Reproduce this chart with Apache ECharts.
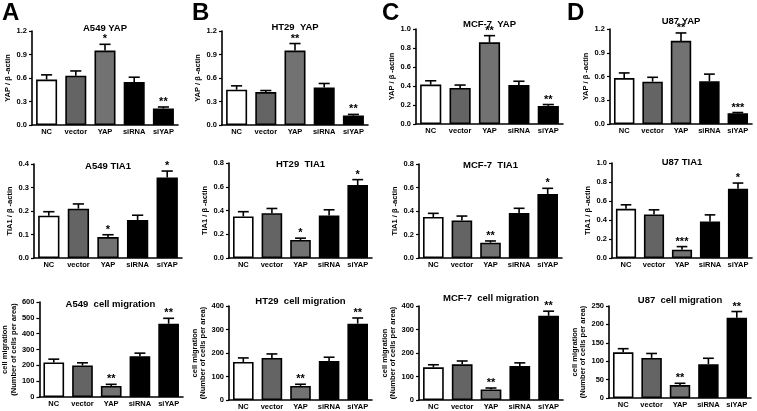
<!DOCTYPE html>
<html><head><meta charset="utf-8">
<script src="https://cdn.jsdelivr.net/npm/echarts/dist/echarts.min.js"></script>
<style>html,body{margin:0;padding:0;background:#fff}#c{width:757px;height:411px}</style>
</head><body><div id="c"></div>
<script>
const categories = ['NC', 'vector', 'YAP', 'siRNA', 'siYAP'];

// YAP / beta-actin (mean, SEM, significance)
const a549YapMean = [0.58, 0.63, 0.95, 0.55, 0.21];
const a549YapSem  = [0.06, 0.06, 0.08, 0.06, 0.02];
const a549YapSig  = ['', '', '*', '', '**'];
const ht29YapMean = [0.45, 0.42, 0.95, 0.48, 0.12];
const ht29YapSem  = [0.05, 0.02, 0.09, 0.05, 0.015];
const ht29YapSig  = ['', '', '**', '', '**'];
const mcf7YapMean = [0.415, 0.38, 0.86, 0.41, 0.19];
const mcf7YapSem  = [0.04, 0.03, 0.07, 0.04, 0.015];
const mcf7YapSig  = ['', '', '**', '', '**'];
const u87YapMean  = [0.58, 0.535, 1.05, 0.54, 0.135];
const u87YapSem   = [0.065, 0.055, 0.10, 0.09, 0.01];
const u87YapSig   = ['', '', '**', '', '***'];

// TIA1 / beta-actin
const a549TiaMean = [0.18, 0.21, 0.089, 0.162, 0.343];
const a549TiaSem  = [0.017, 0.02, 0.01, 0.02, 0.027];
const a549TiaSig  = ['', '', '*', '', '*'];
const ht29TiaMean = [0.35, 0.377, 0.152, 0.358, 0.614];
const ht29TiaSem  = [0.04, 0.04, 0.015, 0.048, 0.046];
const ht29TiaSig  = ['', '', '*', '', '*'];
const mcf7TiaMean = [0.349, 0.32, 0.13, 0.383, 0.545];
const mcf7TiaSem  = [0.031, 0.037, 0.015, 0.04, 0.048];
const mcf7TiaSig  = ['', '', '**', '', '*'];
const u87TiaMean  = [0.518, 0.458, 0.088, 0.384, 0.729];
const u87TiaSem   = [0.042, 0.049, 0.032, 0.07, 0.06];
const u87TiaSig   = ['', '', '***', '', '*'];

// cell migration (number of cells per area)
const a549MigMean = [218, 199, 70, 258, 463];
const a549MigSem  = [21, 17, 10, 19, 34];
const a549MigSig  = ['', '', '**', '', '**'];
const ht29MigMean = [162, 179, 60, 166, 325];
const ht29MigSem  = [17, 17, 7, 16, 24];
const ht29MigSig  = ['', '', '**', '', '**'];
const mcf7MigMean = [139, 152, 45, 145, 358];
const mcf7MigSem  = [11, 14, 6, 13, 20];
const mcf7MigSig  = ['', '', '**', '', '**'];
const u87MigMean  = [124, 109, 35, 92, 218];
const u87MigSem   = [10, 12, 5, 16, 17];
const u87MigSig   = ['', '', '**', '', '**'];

const panelLetters = ['A', 'B', 'C', 'D'];

const FONT = '"Liberation Sans", Arial, sans-serif';
const barColors = ['#ffffff', '#646464', '#727272', '#000000', '#000000'];
const yapName = 'YAP / \u03b2 -actin';
const tiaName = 'TIA1 / \u03b2 -actin';
const migName = 'cell migration\n(Number of cells per area)';

const panels = [
  {title:'A549 YAP', ty:23, mean:a549YapMean, sem:a549YapSem, sig:a549YapSig, g:[32,31,146,94], max:1.2, iv:0.3, dec:1, name:yapName, gap:12},
  {title:'HT29  YAP', ty:22, mean:ht29YapMean, sem:ht29YapSem, sig:ht29YapSig, g:[222,31,146,94], max:1.2, iv:0.3, dec:1, name:yapName, gap:12},
  {title:'MCF-7  YAP', ty:19, mean:mcf7YapMean, sem:mcf7YapSem, sig:mcf7YapSig, g:[416,29,147,95], max:1.0, iv:0.2, dec:1, name:yapName, gap:13},
  {title:'U87 YAP', ty:16, mean:u87YapMean, sem:u87YapSem, sig:u87YapSig, g:[610,29,142,95], max:1.2, iv:0.3, dec:1, name:yapName, gap:14},
  {title:'A549 TIA1', ty:161, mean:a549TiaMean, sem:a549TiaSem, sig:a549TiaSig, g:[34,164,148,94], max:0.4, iv:0.1, dec:1, name:tiaName, gap:14},
  {title:'HT29  TIA1', ty:159, mean:ht29TiaMean, sem:ht29TiaSem, sig:ht29TiaSig, g:[229,163,143,95], max:0.8, iv:0.2, dec:1, name:tiaName, gap:16},
  {title:'MCF-7  TIA1', ty:160, mean:mcf7TiaMean, sem:mcf7TiaSem, sig:mcf7TiaSig, g:[419,164,143,94], max:0.8, iv:0.2, dec:1, name:tiaName, gap:16},
  {title:'U87 TIA1', ty:157, mean:u87TiaMean, sem:u87TiaSem, sig:u87TiaSig, g:[612,163,140,95], max:1.0, iv:0.2, dec:1, name:tiaName, gap:16},
  {title:'A549  cell migration', ty:299, mean:a549MigMean, sem:a549MigSem, sig:a549MigSig, g:[38,302,145,95], max:600, iv:100, dec:0, name:migName, gap:19},
  {title:'HT29  cell migration', ty:296, mean:ht29MigMean, sem:ht29MigSem, sig:ht29MigSig, g:[229,306,143,94], max:400, iv:100, dec:0, name:migName, gap:17},
  {title:'MCF-7  cell migration', ty:293, mean:mcf7MigMean, sem:mcf7MigSem, sig:mcf7MigSig, g:[419,306,144,94], max:400, iv:100, dec:0, name:migName, gap:15},
  {title:'U87  cell migration', ty:295, mean:u87MigMean, sem:u87MigSem, sig:u87MigSig, g:[609,306,142,92], max:250, iv:50, dec:0, name:migName, gap:14}
];
const letterPos = [[2,1],[192,1],[382,1],[567,1]];

const chart = echarts.init(document.getElementById('c'), null, {renderer:'canvas'});

function makeErr(sig) {
  return function (params, api) {
    const i = api.value(0), m = api.value(1), s = api.value(2);
    const p0 = api.coord([i, m]);
    const p1 = api.coord([i, m + s]);
    const hw = api.size([1, 0])[0] * 0.19;
    return {type:'group', children:[
      {type:'line', shape:{x1:p0[0], y1:p0[1], x2:p1[0], y2:p1[1]}, style:{stroke:'#000', lineWidth:1.6}},
      {type:'line', shape:{x1:p1[0]-hw, y1:p1[1], x2:p1[0]+hw, y2:p1[1]}, style:{stroke:'#000', lineWidth:1.6}},
      {type:'text', x:p1[0], y:p1[1] + 0.5, style:{text:sig[params.dataIndex], fill:'#000', fontSize:11, fontWeight:'bold', fontFamily:FONT, align:'center', verticalAlign:'bottom'}}
    ]};
  };
}

const option = {
  animation:false,
  backgroundColor:'#fff',
  title:[], grid:[], xAxis:[], yAxis:[], series:[]
};
panelLetters.forEach((L, k) => {
  option.title.push({text:L, left:letterPos[k][0], top:letterPos[k][1], padding:0,
    textStyle:{fontSize:24, fontWeight:'bold', color:'#000', fontFamily:FONT}});
});
panels.forEach((p, k) => {
  const [l, t, w, h] = p.g;
  option.title.push({text:p.title, left:l + w/2, top:p.ty, padding:0, textAlign:'center',
    textStyle:{fontSize:9.5, fontWeight:'bold', color:'#000', fontFamily:FONT}});
  option.grid.push({left:l, top:t, width:w, height:h, containLabel:false});
  option.xAxis.push({type:'category', gridIndex:k, data:categories,
    axisLine:{lineStyle:{color:'#000', width:1.6}}, axisTick:{show:false},
    axisLabel:{color:'#000', fontSize:7.5, fontWeight:'bold', fontFamily:FONT, margin:3, interval:0}});
  option.yAxis.push({type:'value', gridIndex:k, min:0, max:p.max, interval:p.iv,
    name:p.name, nameLocation:'middle', nameGap:p.gap,
    nameTextStyle:{color:'#000', fontSize:7.5, fontWeight:'bold', fontFamily:FONT, lineHeight:8.5},
    axisLine:{show:true, lineStyle:{color:'#000', width:1.6}},
    axisTick:{show:true, length:3, lineStyle:{color:'#000', width:1.2}},
    splitLine:{show:false},
    axisLabel:{color:'#000', fontSize:7.5, fontWeight:'bold', fontFamily:FONT, margin:5,
      formatter: v => p.dec ? v.toFixed(p.dec) : String(Math.round(v))}});
  option.series.push({type:'bar', xAxisIndex:k, yAxisIndex:k, barWidth:'72%',
    data:p.mean.map((v, i) => ({value:v, itemStyle:{color:barColors[i], borderColor:'#000', borderWidth:1.6}}))});
  option.series.push({type:'custom', xAxisIndex:k, yAxisIndex:k, z:5, clip:false,
    renderItem:makeErr(p.sig), encode:{x:0, y:[1,2]},
    data:p.mean.map((v, i) => [i, v, p.sem[i]])});
});
chart.setOption(option);
</script></body></html>
